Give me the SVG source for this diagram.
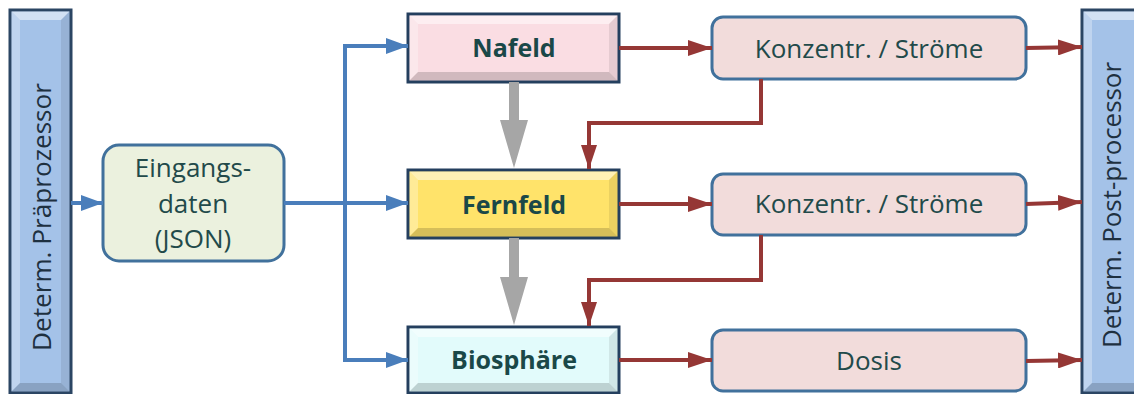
<svg xmlns="http://www.w3.org/2000/svg" width="1134" height="394" viewBox="0 0 1134 394">
<defs>
<style>
.bar{fill:#a4c2e8;stroke:#2b4563;stroke-width:3}
.mod{stroke:#243f5e;stroke-width:3}
.hl{fill:#ffffff;opacity:0.5}
.hl2{fill:#ffffff;opacity:0.3}
.sh{fill:#000000;opacity:0.08}
.sh2{fill:#000000;opacity:0.16}
.rbox{fill:#f2dcdb;stroke:#41719c;stroke-width:3}
.gbox{fill:#ebf1de;stroke:#41719c;stroke-width:3}
.vt{font-family:"Open Sans","DejaVu Sans",sans-serif;font-size:26px;fill:#1e3040;text-anchor:middle}
.bt{font-family:"Open Sans","DejaVu Sans",sans-serif;font-size:25px;font-weight:bold;fill:#1a4848;text-anchor:middle}
.nt{font-family:"Open Sans","DejaVu Sans",sans-serif;font-size:26px;fill:#224a4a;text-anchor:middle}
.blue{fill:none;stroke:#4a7ebb;stroke-width:4}
.red{fill:none;stroke:#953735;stroke-width:4}
.grey{fill:#a6a6a6}
</style>
<marker id="ab" viewBox="0 0 22 16" refX="22" refY="8" markerWidth="22" markerHeight="16" markerUnits="userSpaceOnUse" orient="auto"><path d="M0,0 L22,8 L0,16 Z" fill="#4a7ebb"/></marker>
<marker id="ar" viewBox="0 0 24 16" refX="24" refY="8" markerWidth="24" markerHeight="16" markerUnits="userSpaceOnUse" orient="auto"><path d="M0,0 L24,8 L0,16 Z" fill="#953735"/></marker>
</defs>

<g id="praeprozessor">
<rect class="bar" x="10" y="10" width="61" height="383"/>
<polygon class="hl" points="11.5,11.5 69.5,11.5 61,20 20,20"/>
<polygon class="hl2" points="11.5,11.5 20,20 20,383 11.5,391.5"/>
<polygon class="sh" points="69.5,11.5 69.5,391.5 61,383 61,20"/>
<polygon class="sh2" points="11.5,391.5 20,383 61,383 69.5,391.5"/>
<text class="vt" transform="translate(51,217) rotate(-90)" textLength="268" lengthAdjust="spacingAndGlyphs">Determ. Präprozessor</text>
</g>

<g id="postprocessor">
<rect class="bar" x="1082" y="10" width="70" height="383"/>
<polygon class="hl" points="1083.5,11.5 1150,11.5 1142,20 1092,20"/>
<polygon class="hl2" points="1083.5,11.5 1092,20 1092,383 1083.5,391.5"/>
<polygon class="sh2" points="1083.5,391.5 1092,383 1142,383 1150,391.5"/>
<text class="vt" transform="translate(1121,205) rotate(-90)" textLength="286" lengthAdjust="spacingAndGlyphs">Determ. Post-processor</text>
</g>

<g id="eingangsdaten">
<rect class="gbox" x="103" y="145" width="181" height="116" rx="16"/>
<text class="nt" x="193" y="177">Eingangs-</text>
<text class="nt" x="193" y="213">daten</text>
<text class="nt" x="193" y="248">(JSON)</text>
</g>

<g id="nafeld">
<rect class="mod" fill="#fadde3" x="408" y="14" width="211" height="68"/>
<polygon class="hl" points="409.5,15.5 617.5,15.5 609,24 418,24"/>
<polygon class="hl2" points="409.5,15.5 418,24 418,72 409.5,80.5"/>
<polygon class="sh" points="617.5,15.5 617.5,80.5 609,72 609,24"/>
<polygon class="sh2" points="409.5,80.5 418,72 609,72 617.5,80.5"/>
<text class="bt" x="514" y="57">Nafeld</text>
</g>

<g id="fernfeld">
<rect class="mod" fill="#ffe36a" x="408" y="170" width="211" height="68"/>
<polygon class="hl" points="409.5,171.5 617.5,171.5 609,180 418,180"/>
<polygon class="hl2" points="409.5,171.5 418,180 418,228 409.5,236.5"/>
<polygon class="sh" points="617.5,171.5 617.5,236.5 609,228 609,180"/>
<polygon class="sh2" points="409.5,236.5 418,228 609,228 617.5,236.5"/>
<text class="bt" x="514" y="214">Fernfeld</text>
</g>

<g id="biosphaere">
<rect class="mod" fill="#e2fbfb" x="408" y="327" width="211" height="66"/>
<polygon class="hl" points="409.5,328.5 617.5,328.5 609,337 418,337"/>
<polygon class="hl2" points="409.5,328.5 418,337 418,383 409.5,391.5"/>
<polygon class="sh" points="617.5,328.5 617.5,391.5 609,383 609,337"/>
<polygon class="sh2" points="409.5,391.5 418,383 609,383 617.5,391.5"/>
<text class="bt" x="514" y="369">Biosphäre</text>
</g>

<g id="konz1">
<rect class="rbox" x="712" y="17" width="314" height="62" rx="11"/>
<text class="nt" x="869" y="58">Konzentr. / Ströme</text>
</g>
<g id="konz2">
<rect class="rbox" x="712" y="174" width="314" height="61" rx="11"/>
<text class="nt" x="869" y="213">Konzentr. / Ströme</text>
</g>
<g id="dosis">
<rect class="rbox" x="712" y="330" width="314" height="61" rx="11"/>
<text class="nt" x="869" y="370">Dosis</text>
</g>

<g id="connectors">
<line class="blue" x1="71" y1="203" x2="103" y2="203" marker-end="url(#ab)"/>
<line class="blue" x1="284" y1="203" x2="408" y2="203" marker-end="url(#ab)"/>
<polyline class="blue" points="345,46 345,360"/>
<polyline class="blue" points="343,46 408,46" marker-end="url(#ab)"/>
<polyline class="blue" points="343,360 408,360" marker-end="url(#ab)"/>

<path class="grey" d="M509,82 L519,82 L519,120 L528,120 L514,168 L500,120 L509,120 Z"/>
<path class="grey" d="M509,238 L519,238 L519,277 L528,277 L514,325 L500,277 L509,277 Z"/>

<line class="red" x1="619" y1="48" x2="712" y2="48" marker-end="url(#ar)"/>
<line class="red" x1="619" y1="204" x2="712" y2="204" marker-end="url(#ar)"/>
<line class="red" x1="619" y1="360" x2="712" y2="360" marker-end="url(#ar)"/>
<line class="red" x1="1026" y1="48" x2="1082" y2="47" marker-end="url(#ar)"/>
<line class="red" x1="1026" y1="204" x2="1082" y2="202" marker-end="url(#ar)"/>
<line class="red" x1="1026" y1="361" x2="1082" y2="360" marker-end="url(#ar)"/>
<polyline class="red" points="761,79 761,123 589,123 589,169" marker-end="url(#ar)"/>
<polyline class="red" points="761,235 761,280 589,280 589,326" marker-end="url(#ar)"/>
</g>
</svg>
